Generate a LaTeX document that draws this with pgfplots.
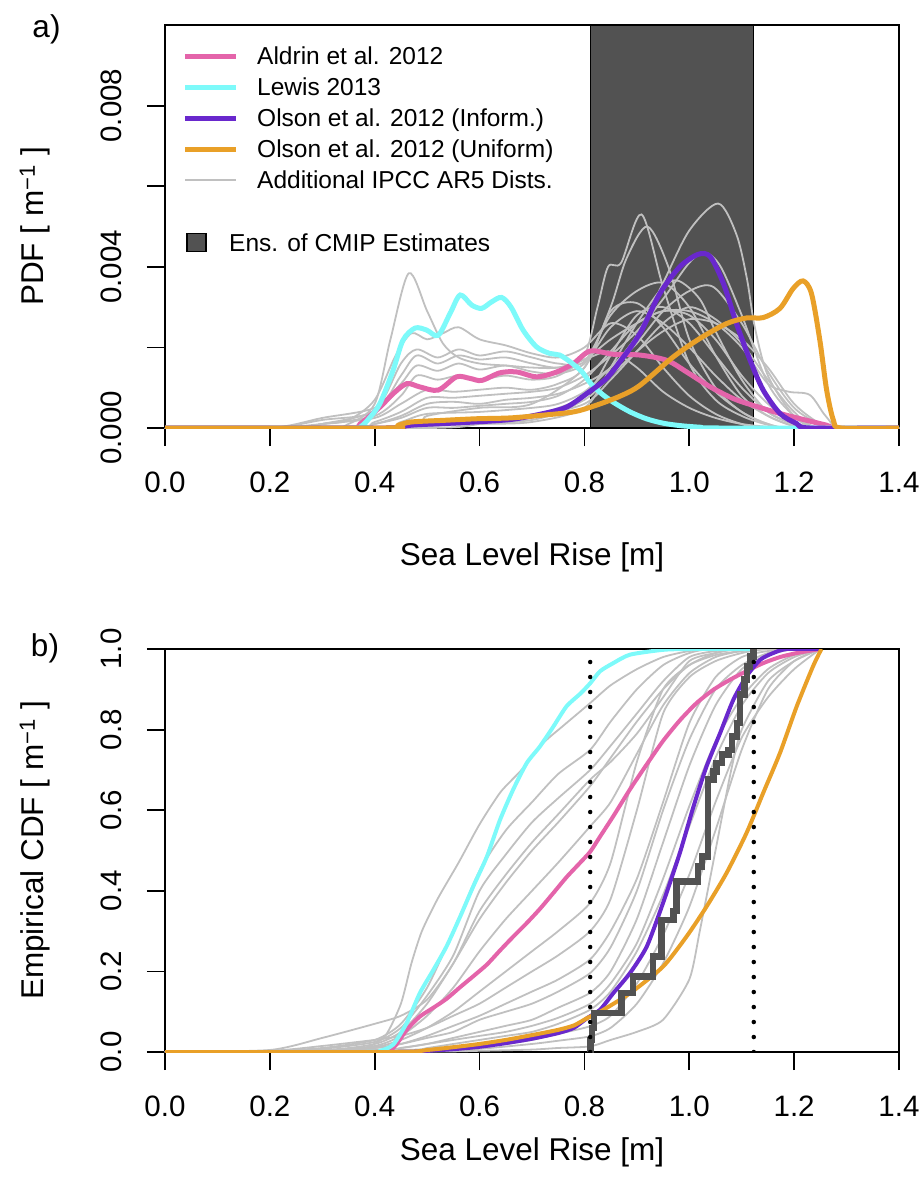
\documentclass[border=0pt]{standalone}
\usepackage{fontspec}
\setmainfont{Liberation Sans}
\usepackage{pgfplots}
\pgfplotsset{compat=1.18}
\definecolor{cpink}{RGB}{228,100,170}
\definecolor{ccyan}{RGB}{125,250,250}
\definecolor{cpurp}{RGB}{105,40,205}
\definecolor{corange}{RGB}{233,160,40}
\definecolor{cgrey}{RGB}{192,192,192}
\definecolor{cshade}{RGB}{82,82,82}
\newcommand{\tickfont}{\fontsize{29.5pt}{30pt}\selectfont}
\newcommand{\labfont}{\fontsize{31.5pt}{32pt}\selectfont}
\newcommand{\legfont}{\fontsize{24.5pt}{25pt}\selectfont}
\pgfplotsset{
 rstyle/.style={
  scale only axis, width=734pt, height=403pt,
  xmin=0, xmax=1.4,
  xtick={0,0.2,0.4,0.6,0.8,1.0,1.2,1.4},
  xticklabels={0.0,0.2,0.4,0.6,0.8,1.0,1.2,1.4},
  tick align=outside, major tick length=18pt,
  xtick pos=bottom, ytick pos=left,
  tick style={black, line width=1.8pt},
  axis line style={line width=1.8pt},
  tick label style={font=\tickfont},
  xticklabel style={anchor=north, inner sep=0pt},
  yticklabel style={rotate=90, anchor=south, inner sep=0pt},
  xticklabel shift=26pt, yticklabel shift=25pt,
  scaled ticks=false,
  label style={font=\labfont},
  ylabel style={at={(axis description cs:-0.165,0.5)}, anchor=base},
 },
 gpdf/.style={cgrey, line width=1.8pt, smooth, tension=0.5},
 gcdf/.style={cgrey, line width=1.8pt, smooth, tension=0.4},
}
\begin{document}
\begin{tikzpicture}
\useasboundingbox (0pt,0pt) rectangle (922pt,-1179pt);
% ---------------- panel a ----------------
\begin{axis}[rstyle, at={(165pt,-428pt)}, anchor=south west,
  ymin=0, ymax=10, ytick={0,2,4,6,8}, yticklabels={0.000,,0.004,,0.008},
  xlabel={Sea Level Rise [m]}, ylabel={PDF [ m\textsuperscript{−1} ]},
  xlabel style={at={(axis description cs:0.5,-0.34)}, anchor=base}]
\addplot[fill=cshade, draw=black, line width=1.2pt] coordinates {(0.811,0) (0.811,10) (1.123,10) (1.123,0)} -- cycle;
% grey PDFs
\addplot[gpdf] coordinates {(0,0) (0.3,0) (0.35,0.1) (0.4,0.6) (0.43,2.2) (0.465,3.84) (0.5,2.9) (0.53,2.1) (0.56,1.75) (0.6,1.6) (0.65,1.55) (0.7,1.5) (0.75,1.5) (0.8,1.7) (0.85,1.9) (0.9,1.5) (0.95,0.9) (1.0,0.5) (1.05,0.25) (1.1,0.1) (1.15,0.03) (1.2,0) (1.4,0)};
\addplot[gpdf] coordinates {(0,0) (0.2,0) (0.3,0.1) (0.35,0.2) (0.4,0.7) (0.44,1.8) (0.47,2.35) (0.5,2.2) (0.53,2.35) (0.56,2.5) (0.6,2.2) (0.65,2.05) (0.7,1.85) (0.75,1.75) (0.8,2.0) (0.85,2.6) (0.9,2.3) (0.95,1.5) (1.0,0.8) (1.05,0.35) (1.1,0.1) (1.15,0) (1.4,0)};
\addplot[gpdf] coordinates {(0,0) (0.25,0) (0.3,0.1) (0.4,0.45) (0.45,1.6) (0.48,1.95) (0.52,1.75) (0.56,1.95) (0.6,1.8) (0.65,1.9) (0.7,1.75) (0.75,1.6) (0.8,1.65) (0.85,2.8) (0.9,3.4) (0.95,3.6) (1.0,3.0) (1.05,1.8) (1.1,0.8) (1.15,0.3) (1.2,0.05) (1.25,0) (1.4,0)};
\addplot[gpdf] coordinates {(0,0) (0.2,0) (0.3,0.2) (0.4,0.4) (0.45,1.3) (0.48,1.8) (0.52,1.6) (0.56,1.8) (0.6,1.7) (0.65,1.75) (0.7,1.6) (0.75,1.5) (0.8,1.7) (0.85,2.2) (0.9,2.6) (0.95,2.9) (1.0,2.8) (1.05,2.2) (1.1,1.3) (1.15,0.6) (1.2,0.15) (1.25,0) (1.4,0)};
\addplot[gpdf] coordinates {(0,0) (0.2,0) (0.3,0.25) (0.4,0.5) (0.45,1.1) (0.48,1.55) (0.52,1.42) (0.56,1.6) (0.6,1.45) (0.65,1.55) (0.7,1.4) (0.75,1.35) (0.8,1.6) (0.85,2.5) (0.9,2.9) (0.95,2.6) (1.0,2.0) (1.05,1.3) (1.1,0.7) (1.15,0.3) (1.2,0.05) (1.25,0) (1.4,0)};
\addplot[gpdf] coordinates {(0,0) (0.25,0) (0.3,0.1) (0.4,0.3) (0.45,0.8) (0.48,1.3) (0.52,1.2) (0.56,1.3) (0.6,1.2) (0.65,1.3) (0.7,1.2) (0.75,1.3) (0.8,1.8) (0.825,3.0) (0.845,4.0) (0.87,4.1) (0.909,5.3) (0.95,3.5) (1.0,1.6) (1.05,0.7) (1.1,0.3) (1.15,0.08) (1.2,0) (1.4,0)};
\addplot[gpdf] coordinates {(0,0) (0.25,0) (0.3,0.1) (0.4,0.25) (0.45,0.6) (0.5,0.95) (0.55,0.9) (0.6,0.95) (0.65,1.0) (0.7,0.95) (0.75,1.1) (0.8,1.5) (0.85,3.0) (0.88,4.2) (0.92,5.0) (0.96,4.0) (1.0,2.2) (1.05,1.0) (1.1,0.4) (1.15,0.1) (1.2,0) (1.4,0)};
\addplot[gpdf] coordinates {(0,0) (0.35,0) (0.4,0.15) (0.45,0.4) (0.5,0.75) (0.55,0.75) (0.6,0.8) (0.65,0.85) (0.7,0.9) (0.75,1.0) (0.8,1.3) (0.85,1.8) (0.9,2.4) (0.95,3.2) (1.0,4.1) (1.03,4.35) (1.06,4.0) (1.1,2.8) (1.15,1.1) (1.2,0.3) (1.25,0) (1.4,0)};
\addplot[gpdf] coordinates {(0,0) (0.35,0) (0.4,0.1) (0.45,0.3) (0.5,0.6) (0.55,0.65) (0.6,0.6) (0.65,0.7) (0.7,0.75) (0.75,0.85) (0.8,1.1) (0.85,1.5) (0.9,2.3) (0.95,3.6) (1.0,4.9) (1.055,5.57) (1.09,4.8) (1.11,3.7) (1.125,2.5) (1.15,1.3) (1.2,0.3) (1.25,0) (1.4,0)};
\addplot[gpdf] coordinates {(0,0) (0.35,0) (0.4,0.1) (0.45,0.25) (0.5,0.5) (0.55,0.5) (0.6,0.55) (0.65,0.6) (0.7,0.65) (0.75,0.8) (0.8,1.2) (0.85,1.9) (0.9,2.6) (0.95,2.9) (1.0,2.9) (1.05,2.6) (1.1,2.0) (1.15,1.1) (1.19,0.9) (1.23,0.82) (1.26,0.3) (1.29,0) (1.4,0)};
\addplot[gpdf] coordinates {(0,0) (0.4,0) (0.45,0.15) (0.5,0.35) (0.6,0.4) (0.7,0.5) (0.75,0.6) (0.8,0.9) (0.85,1.5) (0.9,2.1) (0.95,2.9) (1.0,3.4) (1.046,3.5) (1.1,2.6) (1.15,1.4) (1.2,0.5) (1.25,0.1) (1.3,0) (1.4,0)};
\addplot[gpdf] coordinates {(0,0) (0.42,0) (0.45,0.05) (0.5,0.2) (0.6,0.25) (0.7,0.3) (0.8,0.6) (0.85,1.2) (0.9,1.9) (0.95,2.6) (1.0,3.0) (1.05,2.7) (1.1,2.1) (1.15,1.2) (1.2,0.4) (1.25,0) (1.4,0)};
\addplot[gpdf] coordinates {(0,0) (0.45,0) (0.5,0.05) (0.6,0.1) (0.7,0.15) (0.8,0.5) (0.85,1.5) (0.9,2.6) (0.95,3.5) (0.98,3.65) (1.02,3.2) (1.05,2.4) (1.1,1.2) (1.15,0.4) (1.2,0.1) (1.25,0) (1.4,0)};
\addplot[gpdf] coordinates {(0,0) (0.45,0) (0.5,0.05) (0.7,0.2) (0.8,0.7) (0.85,1.3) (0.9,1.9) (0.95,2.4) (1.0,2.7) (1.05,2.6) (1.1,2.2) (1.15,1.5) (1.2,0.6) (1.25,0.1) (1.28,0) (1.4,0)};
\addplot[gpdf] coordinates {(0,0) (0.5,0) (0.6,0.1) (0.7,0.3) (0.8,0.8) (0.85,1.8) (0.9,2.8) (0.95,3.0) (1.0,2.6) (1.05,1.8) (1.1,1.0) (1.15,0.4) (1.2,0.1) (1.25,0) (1.4,0)};
\addplot[gpdf] coordinates {(0,0) (0.45,0) (0.5,0.3) (0.6,0.5) (0.7,0.6) (0.8,1.5) (0.85,2.9) (0.9,3.1) (0.95,2.5) (1.0,1.6) (1.05,0.9) (1.1,0.4) (1.15,0.1) (1.2,0) (1.4,0)};
% coloured PDFs
\addplot[cpink, line width=5pt, smooth, tension=0.5] coordinates {(0,0) (0.35,0) (0.372,0.1) (0.41,0.52) (0.435,0.85) (0.461,1.10) (0.486,1.02) (0.521,0.94) (0.556,1.27) (0.582,1.23) (0.604,1.18) (0.639,1.37) (0.671,1.39) (0.709,1.27) (0.747,1.39) (0.779,1.60) (0.811,1.91) (0.855,1.83) (0.906,1.81) (0.957,1.68) (0.995,1.39) (1.04,1.02) (1.084,0.73) (1.122,0.56) (1.173,0.36) (1.224,0.19) (1.262,0.07) (1.285,0) (1.4,0)};
\addplot[ccyan, line width=5pt, smooth, tension=0.5] coordinates {(0,0) (0.36,0) (0.375,0.05) (0.39,0.25) (0.41,0.61) (0.435,1.43) (0.454,2.18) (0.477,2.48) (0.499,2.43) (0.521,2.30) (0.544,2.85) (0.563,3.30) (0.585,3.05) (0.604,2.97) (0.623,3.13) (0.642,3.24) (0.66,3.0) (0.683,2.43) (0.709,2.01) (0.734,1.85) (0.753,1.81) (0.775,1.62) (0.795,1.40) (0.811,1.12) (0.83,0.88) (0.855,0.64) (0.887,0.40) (0.918,0.23) (0.95,0.12) (0.982,0.06) (1.02,0.02) (1.06,0) (1.4,0)};
\addplot[cpurp, line width=5pt, smooth, tension=0.5] coordinates {(0,0) (0.42,0) (0.45,0.04) (0.48,0.08) (0.563,0.13) (0.658,0.21) (0.722,0.36) (0.766,0.52) (0.804,0.85) (0.842,1.23) (0.868,1.65) (0.906,2.35) (0.944,3.34) (0.982,4.0) (1.017,4.31) (1.04,4.25) (1.065,3.59) (1.09,2.59) (1.116,1.68) (1.141,0.94) (1.173,0.36) (1.205,0.11) (1.23,0) (1.4,0)};
\addplot[corange, line width=5pt, smooth, tension=0.5] coordinates {(0,0) (0.42,0) (0.445,0.07) (0.47,0.15) (0.531,0.19) (0.595,0.23) (0.658,0.25) (0.722,0.32) (0.779,0.40) (0.817,0.54) (0.868,0.79) (0.906,1.06) (0.969,1.76) (1.02,2.22) (1.071,2.59) (1.109,2.73) (1.141,2.74) (1.173,2.97) (1.198,3.46) (1.217,3.65) (1.233,3.34) (1.249,2.18) (1.262,0.94) (1.275,0.19) (1.29,0) (1.4,0)};
\end{axis}
% ---------------- panel b ----------------
\begin{axis}[rstyle, at={(165pt,-1052pt)}, anchor=south west,
  ymin=0, ymax=1, ytick={0,0.2,0.4,0.6,0.8,1.0}, yticklabels={0.0,0.2,0.4,0.6,0.8,1.0},
  xlabel={Sea Level Rise [m]}, ylabel={Empirical CDF [ m\textsuperscript{−1} ]},
  xlabel style={at={(axis description cs:0.5,-0.27)}, anchor=base}]
\addplot[gcdf] coordinates {(0,0) (0.3,0.002) (0.38,0.01) (0.42,0.04) (0.45,0.12) (0.47,0.22) (0.49,0.30) (0.52,0.38) (0.56,0.47) (0.6,0.565) (0.64,0.645) (0.68,0.70) (0.72,0.765) (0.76,0.81) (0.811,0.866) (0.85,0.91) (0.9,0.95) (0.95,0.98) (1.0,0.995) (1.05,1) (1.25,1)};
\addplot[gcdf] coordinates {(0,0) (0.2,0.003) (0.3,0.01) (0.4,0.03) (0.45,0.07) (0.5,0.16) (0.55,0.3) (0.6,0.45) (0.65,0.55) (0.7,0.62) (0.75,0.69) (0.811,0.75) (0.85,0.82) (0.9,0.9) (0.95,0.96) (1.0,0.99) (1.05,1) (1.25,1)};
\addplot[gcdf] coordinates {(0,0) (0.2,0.002) (0.3,0.008) (0.4,0.025) (0.45,0.06) (0.5,0.14) (0.55,0.24) (0.6,0.40) (0.65,0.49) (0.7,0.57) (0.75,0.63) (0.811,0.70) (0.85,0.76) (0.9,0.84) (0.95,0.92) (1.0,0.98) (1.05,0.995) (1.1,1) (1.25,1)};
\addplot[gcdf] coordinates {(0,0) (0.2,0.005) (0.3,0.035) (0.4,0.07) (0.45,0.09) (0.5,0.13) (0.55,0.22) (0.6,0.35) (0.65,0.44) (0.7,0.52) (0.75,0.59) (0.811,0.676) (0.85,0.72) (0.9,0.79) (0.95,0.88) (1.0,0.97) (1.05,0.99) (1.1,1) (1.25,1)};
\addplot[gcdf] coordinates {(0,0) (0.3,0.005) (0.4,0.02) (0.45,0.05) (0.5,0.12) (0.55,0.22) (0.6,0.33) (0.65,0.42) (0.7,0.50) (0.75,0.57) (0.811,0.66) (0.85,0.73) (0.9,0.82) (0.95,0.90) (1.0,0.96) (1.05,0.99) (1.1,1) (1.25,1)};
\addplot[gcdf] coordinates {(0,0) (0.3,0.004) (0.4,0.015) (0.45,0.04) (0.5,0.09) (0.55,0.16) (0.6,0.25) (0.65,0.33) (0.7,0.40) (0.75,0.47) (0.811,0.56) (0.85,0.62) (0.9,0.74) (0.95,0.86) (1.0,0.94) (1.05,0.98) (1.1,0.995) (1.15,1) (1.25,1)};
\addplot[gcdf] coordinates {(0,0) (0.3,0.004) (0.4,0.012) (0.45,0.03) (0.5,0.06) (0.55,0.10) (0.6,0.15) (0.65,0.20) (0.7,0.25) (0.75,0.30) (0.811,0.37) (0.85,0.47) (0.9,0.72) (0.95,0.90) (1.0,0.96) (1.05,0.985) (1.1,0.995) (1.15,1) (1.25,1)};
\addplot[gcdf] coordinates {(0,0) (0.2,0.003) (0.3,0.015) (0.4,0.03) (0.45,0.04) (0.5,0.06) (0.55,0.09) (0.6,0.12) (0.65,0.16) (0.7,0.20) (0.75,0.24) (0.811,0.30) (0.85,0.38) (0.9,0.60) (0.95,0.84) (1.0,0.93) (1.05,0.97) (1.1,0.99) (1.15,1) (1.25,1)};
\addplot[gcdf] coordinates {(0,0) (0.3,0.002) (0.4,0.01) (0.45,0.02) (0.5,0.04) (0.55,0.065) (0.6,0.09) (0.65,0.12) (0.7,0.15) (0.75,0.18) (0.811,0.23) (0.85,0.30) (0.9,0.43) (0.95,0.62) (1.0,0.816) (1.05,0.93) (1.1,0.98) (1.15,0.995) (1.2,1) (1.25,1)};
\addplot[gcdf] coordinates {(0,0) (0.3,0.002) (0.4,0.01) (0.45,0.02) (0.5,0.035) (0.55,0.05) (0.6,0.08) (0.65,0.10) (0.7,0.12) (0.75,0.15) (0.811,0.196) (0.85,0.26) (0.9,0.40) (0.95,0.60) (1.0,0.775) (1.05,0.90) (1.1,0.96) (1.15,0.99) (1.2,1) (1.25,1)};
\addplot[gcdf] coordinates {(0,0) (0.4,0.005) (0.45,0.01) (0.5,0.02) (0.55,0.035) (0.6,0.05) (0.65,0.065) (0.7,0.08) (0.75,0.11) (0.811,0.147) (0.85,0.20) (0.9,0.33) (0.95,0.52) (1.0,0.71) (1.05,0.86) (1.1,0.95) (1.15,0.985) (1.2,1) (1.25,1)};
\addplot[gcdf] coordinates {(0,0) (0.4,0.003) (0.45,0.01) (0.5,0.02) (0.55,0.03) (0.6,0.04) (0.65,0.05) (0.7,0.065) (0.75,0.085) (0.811,0.12) (0.85,0.17) (0.9,0.27) (0.95,0.43) (1.0,0.61) (1.05,0.77) (1.1,0.88) (1.15,0.95) (1.2,0.985) (1.25,1)};
\addplot[gcdf] coordinates {(0,0) (0.45,0.005) (0.5,0.01) (0.55,0.02) (0.6,0.03) (0.65,0.04) (0.7,0.05) (0.75,0.07) (0.811,0.105) (0.85,0.15) (0.9,0.25) (0.95,0.39) (1.0,0.56) (1.05,0.73) (1.1,0.86) (1.15,0.94) (1.2,0.98) (1.25,1)};
\addplot[gcdf] coordinates {(0,0) (0.45,0.003) (0.5,0.006) (0.6,0.015) (0.65,0.02) (0.7,0.03) (0.75,0.045) (0.811,0.064) (0.85,0.09) (0.9,0.17) (0.95,0.29) (1.0,0.44) (1.05,0.62) (1.1,0.78) (1.15,0.88) (1.2,0.95) (1.25,1)};
\addplot[gcdf] coordinates {(0,0) (0.5,0.003) (0.6,0.008) (0.7,0.02) (0.75,0.028) (0.811,0.039) (0.85,0.06) (0.9,0.12) (0.95,0.22) (1.0,0.36) (1.05,0.55) (1.1,0.75) (1.15,0.90) (1.2,0.97) (1.25,1)};
\addplot[gcdf] coordinates {(0,0) (0.5,0.001) (0.6,0.003) (0.7,0.006) (0.75,0.01) (0.811,0.014) (0.85,0.03) (0.9,0.05) (0.95,0.08) (1.0,0.18) (1.02,0.3) (1.05,0.5) (1.08,0.7) (1.1,0.8) (1.15,0.92) (1.2,0.97) (1.25,1)};
% coloured CDFs
\addplot[cpink, line width=4pt, smooth, tension=0.4] coordinates {(0,0) (0.40,0) (0.435,0.01) (0.461,0.055) (0.486,0.088) (0.512,0.11) (0.537,0.132) (0.563,0.161) (0.588,0.188) (0.614,0.217) (0.639,0.252) (0.664,0.286) (0.690,0.320) (0.715,0.355) (0.741,0.395) (0.766,0.434) (0.792,0.47) (0.811,0.497) (0.830,0.535) (0.855,0.585) (0.887,0.652) (0.919,0.714) (0.950,0.772) (0.982,0.823) (1.014,0.866) (1.046,0.899) (1.078,0.924) (1.109,0.945) (1.141,0.965) (1.173,0.980) (1.205,0.990) (1.25,1.0)};
\addplot[ccyan, line width=4pt, smooth, tension=0.4] coordinates {(0,0) (0.38,0) (0.41,0.003) (0.435,0.018) (0.461,0.072) (0.486,0.146) (0.512,0.204) (0.537,0.262) (0.563,0.336) (0.588,0.411) (0.614,0.485) (0.639,0.576) (0.664,0.651) (0.690,0.717) (0.715,0.758) (0.741,0.808) (0.766,0.858) (0.792,0.889) (0.811,0.915) (0.830,0.945) (0.855,0.965) (0.887,0.986) (0.95,0.998) (1.0,1) (1.12,1)};
\addplot[cpurp, line width=4pt, smooth, tension=0.4] coordinates {(0,0) (0.44,0) (0.5,0.003) (0.55,0.007) (0.6,0.013) (0.65,0.022) (0.7,0.033) (0.75,0.047) (0.78,0.06) (0.805,0.084) (0.830,0.105) (0.855,0.146) (0.887,0.196) (0.919,0.262) (0.950,0.370) (0.982,0.494) (1.008,0.609) (1.033,0.709) (1.059,0.792) (1.084,0.874) (1.109,0.932) (1.135,0.973) (1.160,0.990) (1.186,1.0) (1.25,1)};
\addplot[corange, line width=4pt, smooth, tension=0.4] coordinates {(0,0) (0.44,0) (0.5,0.005) (0.55,0.012) (0.6,0.02) (0.65,0.03) (0.7,0.042) (0.75,0.055) (0.78,0.066) (0.805,0.084) (0.83,0.1) (0.887,0.146) (0.950,0.212) (0.995,0.287) (1.033,0.361) (1.071,0.444) (1.109,0.543) (1.141,0.643) (1.173,0.742) (1.205,0.858) (1.236,0.957) (1.252,1.0)};
% CMIP ensemble empirical CDF
\addplot[const plot, cshade, line width=6.5pt] coordinates {(0.811,0) (0.8115,0.03) (0.814,0.06) (0.818,0.097) (0.871,0.146) (0.893,0.188) (0.931,0.237) (0.947,0.328) (0.970,0.35) (0.976,0.423) (1.017,0.46) (1.024,0.485) (1.036,0.676) (1.046,0.696) (1.052,0.717) (1.062,0.738) (1.075,0.75) (1.081,0.783) (1.091,0.816) (1.097,0.887) (1.105,0.924) (1.110,0.957) (1.116,0.982) (1.122,1.0) (1.123,1.0)};
% CMIP range
\addplot[black, line width=4.5pt, line cap=round, dash pattern=on 0pt off 15pt] coordinates {(0.811,0) (0.811,1)};
\addplot[black, line width=4.5pt, line cap=round, dash pattern=on 0pt off 15pt] coordinates {(1.123,0) (1.123,1)};
\end{axis}
% panel letters
\node[font=\labfont, inner sep=0pt] at (46.5pt,-29pt) {a)};
\node[font=\labfont, inner sep=0pt] at (45pt,-648pt) {b)};
% legend of panel a
\draw[cpink, line width=5pt] (185pt,-56pt) -- (236pt,-56pt);
\draw[ccyan, line width=5pt] (185pt,-87pt) -- (236pt,-87pt);
\draw[cpurp, line width=5pt] (185pt,-118pt) -- (236pt,-118pt);
\draw[corange, line width=5pt] (185pt,-149pt) -- (236pt,-149pt);
\draw[cgrey, line width=1.8pt] (185pt,-180pt) -- (236pt,-180pt);
\filldraw[fill=cshade, draw=black, line width=1.5pt] (187pt,-233.5pt) rectangle (206pt,-251.5pt);
\node[font=\legfont, inner sep=0pt, anchor=base west] at (257pt,-64.8pt) {Aldrin et al. 2012};
\node[font=\legfont, inner sep=0pt, anchor=base west] at (257pt,-95.8pt) {Lewis 2013};
\node[font=\legfont, inner sep=0pt, anchor=base west] at (257pt,-126.8pt) {Olson et al. 2012 (Inform.)};
\node[font=\legfont, inner sep=0pt, anchor=base west] at (257pt,-157.8pt) {Olson et al. 2012 (Uniform)};
\node[font=\legfont, inner sep=0pt, anchor=base west] at (257pt,-188.8pt) {Additional IPCC AR5 Dists.};
\node[font=\legfont, inner sep=0pt, anchor=base west] at (229pt,-251.5pt) {Ens. of CMIP Estimates};
\end{tikzpicture}
\end{document}
